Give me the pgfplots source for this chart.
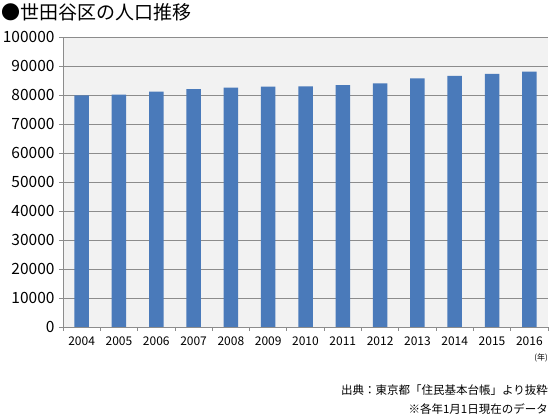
\documentclass[border=0pt]{standalone}
\usepackage{pgfplots}
\pgfplotsset{compat=1.18}
\usepackage{fontspec}
\setmainfont{Noto Sans CJK JP}
\definecolor{barblue}{HTML}{4A7ABA}
\definecolor{plotbg}{HTML}{F2F2F2}
\definecolor{gridgray}{HTML}{8C8C8C}
\begin{document}
\begin{tikzpicture}
\useasboundingbox (0pt,0pt) rectangle (550pt,415pt);
\node[anchor=base west,font=\fontsize{19}{19}\selectfont,inner sep=0pt] at (1pt,395pt) {●世田谷区の人口推移};
\begin{axis}[
  at={(63pt,88pt)}, anchor=south west,
  scale only axis, width=485pt, height=290pt,
  xmin=-0.5, xmax=12.5, ymin=0, ymax=100000,
  axis background/.style={fill=plotbg},
  axis x line*=bottom, axis y line*=left,
  axis line style={gridgray, line width=0.8pt},
  ymajorgrids, grid style={gridgray, line width=0.8pt},
  ytick={0,10000,...,100000},
  scaled y ticks=false,
  /pgf/number format/fixed,
  /pgf/number format/1000 sep={},
  /pgf/number format/assume math mode=true,
  xtick={0,...,12}, major x tick style={draw=none},
  xticklabels={2004,2005,2006,2007,2008,2009,2010,2011,2012,2013,2014,2015,2016},
  minor xtick={-0.5,0.5,...,12.5},
  minor tick length=4pt, major tick length=4pt,
  tick align=outside,
  tick style={gridgray, line width=0.8pt},
  y tick label style={font=\fontsize{15.5}{15.5}\selectfont, xshift=-1pt},
  x tick label style={font=\fontsize{12}{12}\selectfont, yshift=-2pt},
]
\addplot[ybar, bar width=14.5pt, fill=barblue, draw=none] coordinates {
  (0,79900) (1,80100) (2,81200) (3,82000) (4,82500) (5,82900) (6,83000)
  (7,83400) (8,84000) (9,85700) (10,86600) (11,87300) (12,88100)
};
\end{axis}
\node[anchor=east,font=\fontsize{8}{8}\selectfont,inner sep=0pt] at (548pt,57pt) {(年)};
\node[anchor=east,font=\fontsize{11.5}{11.5}\selectfont,inner sep=0pt] at (548pt,25pt) {出典：東京都「住民基本台帳」より抜粋};
\node[anchor=east,font=\fontsize{11.5}{11.5}\selectfont,inner sep=0pt] at (548pt,6pt) {※各年1月1日現在のデータ};
\end{tikzpicture}
\end{document}
